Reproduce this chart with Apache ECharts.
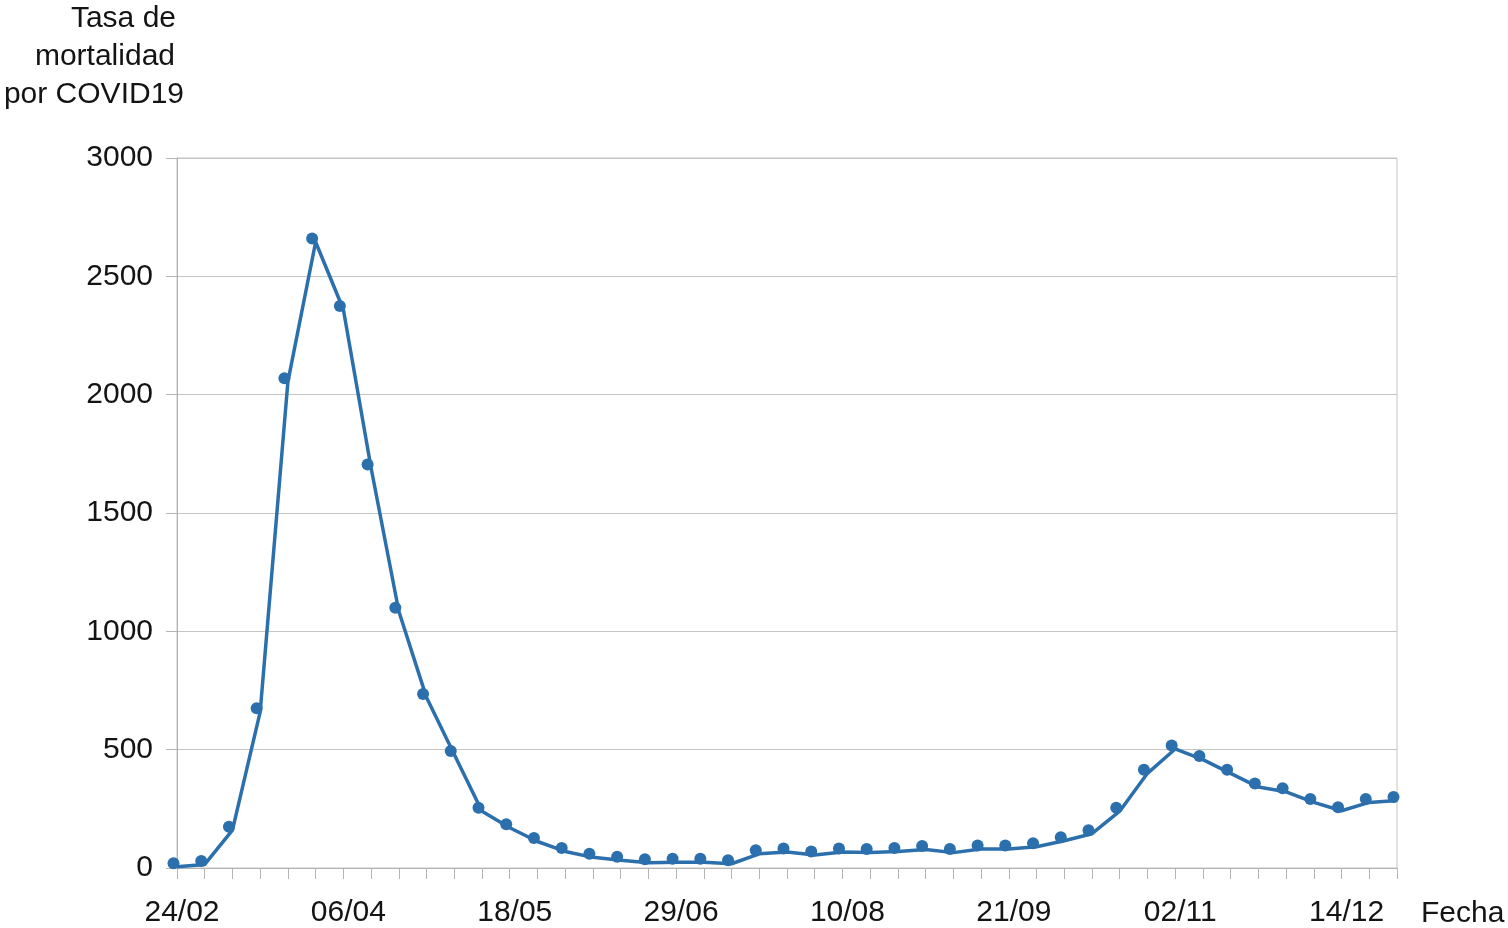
<!DOCTYPE html>
<html>
<head>
<meta charset="utf-8">
<script src="https://cdn.jsdelivr.net/npm/echarts@6/dist/echarts.min.js"></script>
<style>
html,body{margin:0;padding:0;background:#fff;}
#chart{width:1508px;height:928px;}
</style>
</head>
<body>
<div id="chart"></div>
<script>
const categories = ['24/02','02/03','09/03','16/03','23/03','30/03','06/04','13/04','20/04','27/04',
  '04/05','11/05','18/05','25/05','01/06','08/06','15/06','22/06','29/06','06/07',
  '13/07','20/07','27/07','03/08','10/08','17/08','24/08','31/08','07/09','14/09',
  '21/09','28/09','05/10','12/10','19/10','26/10','02/11','09/11','16/11','23/11',
  '30/11','07/12','14/12','21/12','28/12'];
const mortalidad = [5, 15, 160, 660, 2055, 2645, 2360, 1690, 1085, 720,
  480, 240, 170, 112, 70, 45, 33, 22, 24, 24,
  18, 60, 68, 55, 68, 65, 70, 78, 65, 80,
  80, 90, 115, 145, 240, 400, 503, 458, 400, 342,
  322, 277, 242, 277, 285];
const yTicks = {min: 0, max: 3000, interval: 500};
const yTitleLines = ['Tasa de', 'mortalidad', 'por COVID19'];
const xTitle = 'Fecha';

const FONT = 'Liberation Sans, Arial, sans-serif';
const TEXT = '#141414';
const BLUE = '#2b6fad';

const chart = echarts.init(document.getElementById('chart'), null, {renderer: 'canvas'});
chart.setOption({
  animation: false,
  backgroundColor: '#ffffff',
  grid: {left: 177, right: 111, top: 158, bottom: 59, show: true, borderColor: '#c4c4c4', borderWidth: 1, backgroundColor: 'transparent'},
  graphic: [
    {type: 'text', right: 1508 - 176, top: 4, style: {text: yTitleLines[0], font: '30px ' + FONT, fill: TEXT}},
    {type: 'text', right: 1508 - 175, top: 42, style: {text: yTitleLines[1], font: '30px ' + FONT, fill: TEXT}},
    {type: 'text', right: 1508 - 184, top: 80, style: {text: yTitleLines[2], font: '30px ' + FONT, fill: TEXT}},
    {type: 'text', left: 1421, top: 899, style: {text: xTitle, font: '30px ' + FONT, fill: TEXT}}
  ],
  xAxis: {
    type: 'category',
    data: categories,
    boundaryGap: false,
    axisLine: {show: true, lineStyle: {color: '#b4b4b4', width: 1}},
    axisTick: {show: true, interval: 0, length: 11, lineStyle: {color: '#b4b4b4'}},
    axisLabel: {interval: 5, fontSize: 30, fontFamily: FONT, color: TEXT, margin: 30, padding: [0, 0, 0, 10]},
    splitLine: {show: false}
  },
  yAxis: {
    type: 'value',
    min: yTicks.min, max: yTicks.max, interval: yTicks.interval,
    axisLine: {show: true, lineStyle: {color: '#b4b4b4', width: 1}},
    axisTick: {show: true, length: 11, lineStyle: {color: '#b4b4b4'}},
    axisLabel: {fontSize: 30, fontFamily: FONT, color: TEXT, margin: 24, formatter: function (v) { return String(v); }},
    splitLine: {show: true, lineStyle: {color: '#c4c4c4', width: 1}}
  },
  series: [{
    type: 'line',
    data: mortalidad,
    lineStyle: {color: BLUE, width: 3.5},
    itemStyle: {color: BLUE},
    symbol: 'circle',
    symbolSize: 12,
    symbolOffset: [-3.5, -3.5],
    showAllSymbol: true,
    z: 3
  }]
});
</script>
</body>
</html>
